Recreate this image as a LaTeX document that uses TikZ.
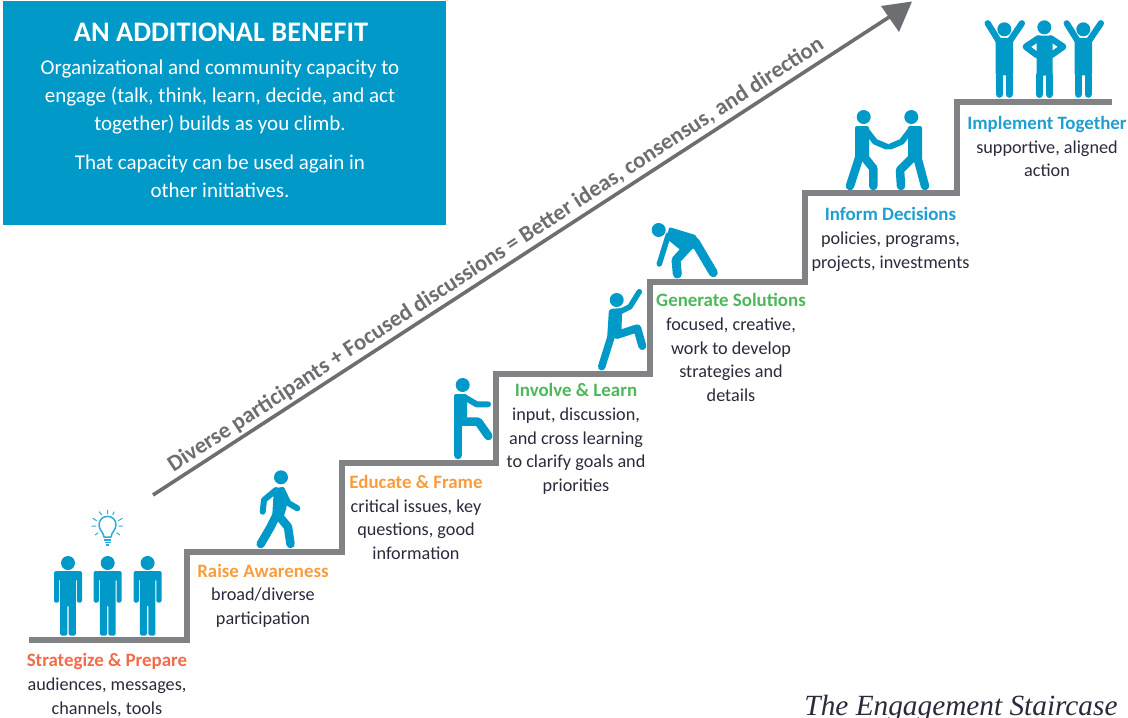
\documentclass[tikz,border=0pt]{standalone}
\usepackage{fontspec}
\setmainfont{Carlito}
\newfontfamily\capfont{Liberation Serif}
\definecolor{pblue}{HTML}{0099C8}
\definecolor{lblue}{HTML}{29ABDC}
\definecolor{stairgray}{HTML}{808285}
\definecolor{arrowgray}{HTML}{6D6E71}
\definecolor{bodyink}{HTML}{2A2A3C}
\definecolor{coral}{HTML}{F46A4A}
\definecolor{amber}{HTML}{F99D3C}
\definecolor{leaf}{HTML}{4DB85A}
\definecolor{sky}{HTML}{1F9FD0}
\newcommand{\stephead}[2]{{\fontsize{18.9}{23.6}\selectfont\bfseries\color{#1}#2}}
\tikzset{
  limb/.style={draw=pblue,line width=#1,line cap=round,line join=round},
  limb/.default=8,
  solidbody/.style={fill=pblue,draw=none,rounded corners=2},
  steptext/.style={font=\fontsize{18.2}{23.6}\selectfont,text=bodyink,align=center,inner sep=0pt},
  boxtext/.style={font=\fontsize{21}{28}\selectfont,text=white,align=center,inner sep=0pt},
  standperson/.pic={
    \fill[pblue] (0,0) circle (7);
    \fill[pblue,rounded corners=1.5] (-14,8) -- (14,8) -- (14,39.5) -- (8.8,39.5) -- (8.8,16) -- (7.8,16) -- (7.8,72.5) -- (0.7,72.5) -- (0.7,42) -- (-0.7,42) -- (-0.7,72.5) -- (-7.8,72.5) -- (-7.8,16) -- (-8.8,16) -- (-8.8,39.5) -- (-14,39.5) -- cycle;
  },
  cheerbody/.pic={
    \fill[pblue] (0,0) circle (7);
    \fill[pblue,rounded corners=1.5] (-8.7,8.5) -- (8.7,8.5) -- (8.7,46) -- (-8.7,46) -- cycle;
    \draw[limb=7] (-4.7,46) -- (-4.7,65);
    \draw[limb=7] (4.7,46) -- (4.7,65);
    \draw[limb=6.3] (-6,11) -- (-16.6,-6);
    \draw[limb=6.3] (6,11) -- (17.6,-6);
  },
}
\begin{document}
\begin{tikzpicture}[x=1pt,y=-1pt]
\useasboundingbox (0,0) rectangle (1128,718);
% info box
\node[fill=pblue,draw=none,minimum width=443,minimum height=224,inner sep=0pt] (box) at (224.5,113) {};
\node[font=\fontsize{28.3}{30}\selectfont\bfseries,text=white,inner sep=0pt] (boxtitle) at (221,32) {AN ADDITIONAL BENEFIT};
\node[boxtext] (boxbody) at (220,97) {Organizational and community capacity to\\engage (talk, think, learn, decide, and act\\together) builds as you climb.};
\node[boxtext] (boxtail) at (220,176) {That capacity can be used again in\\other initiatives.};
% staircase
\draw[stairgray,line width=6,line join=miter] (29,640) -- (187,640) -- (187,552) -- (342,552) -- (342,463) -- (495.5,463) -- (495.5,374) -- (650,374) -- (650,281.5) -- (805,281.5) -- (805,193) -- (957,193) -- (957,102) -- (1112,102);
% diagonal arrow
\coordinate (arrowstart) at (153,495);
\coordinate (arrowend) at (890,16.5);
\draw[arrowgray,line width=3.6] (arrowstart) -- (arrowend);
\fill[arrowgray] (912,1.5) -- (881,6) -- (899,32) -- cycle;
\node[rotate=33.1,font=\fontsize{22.8}{26}\selectfont\bfseries,text=arrowgray,inner sep=0pt] (slogan) at (496,255) {Diverse participants + Focused discussions = Better ideas, consensus, and direction};
% three standing people
\pic at (68,563) {standperson};
\pic at (107.7,563) {standperson};
\pic at (147.6,563) {standperson};
% bulb
\draw[lblue,line width=1.5,line join=round] (104,537) .. controls (103.5,532) and (99,530) .. (99,525) .. controls (99,513.5) and (116,513.5) .. (116,525) .. controls (116,530) and (111.5,532) .. (111,537) -- cycle;
\draw[lblue,line width=1.5] (104,540) -- (111,540) (104.5,542.5) -- (110.5,542.5) (106,545) -- (109,545);
\draw[lblue,line width=1] (107.7,510) -- (107.7,514) (99.3,511.7) -- (101.7,515) (114.3,511.7) -- (112.7,515) (92.7,518.3) -- (96.7,520.7) (122.3,518.3) -- (118.3,520.7) (91.7,526) -- (96,526) (122.7,526) -- (118.7,526) (95,535) -- (98.3,532.7) (120,535) -- (116.7,532.7);
% walker
\fill[pblue] (281,477.3) circle (7);
\fill[solidbody] (274,488) -- (284.5,487) -- (287,506) -- (283,519) -- (272,519) -- cycle;
\draw[limb=8.5] (276,516) -- (270,528) -- (260.7,544);
\draw[limb=8.5] (279,516) -- (288,527) -- (290.5,544);
\draw[limb=6] (276,490) -- (264,500) -- (262.7,511.7);
\draw[limb=6] (282,490) -- (288.3,503) -- (297.3,508.3);
% stepping person
\fill[pblue] (462.7,385) circle (7);
\fill[solidbody] (454,394) -- (467,394) -- (467,424) -- (454,424) -- cycle;
\draw[limb=8.5] (458.2,420) -- (458.2,455);
\draw[limb=6] (465,397.5) -- (476.7,404.3) -- (488,404.3);
\draw[limb=8.5] (461.7,421.7) -- (478.3,421.7) -- (488.3,436);
% climbing person
\fill[pblue] (616.7,300) circle (7);
\fill[solidbody] (609,309) -- (622,308) -- (621.5,335) -- (607,340) -- cycle;
\draw[limb=7.5] (611,337) -- (601.7,366.7);
\draw[limb=8] (616.7,335) -- (637.3,328.3) -- (642.3,346);
\draw[limb=5.5] (620,311.7) -- (630,306.7) -- (639.3,291.7);
% bending person
\fill[pblue] (658.7,230) circle (7);
\fill[solidbody] (669,227) -- (697,235.5) -- (696,247.5) -- (684,253) -- (667,239) -- cycle;
\draw[limb=5.5] (668.3,235) -- (659.3,264);
\draw[limb=9] (695,241.7) -- (713.3,272.7);
\draw[limb=9] (688,247) -- (676,260) -- (677.3,274);
% handshake
\fill[pblue] (863.7,117) circle (7);
\fill[solidbody] (855,126) -- (869,126) -- (869,160) -- (855,160) -- cycle;
\draw[limb=8.5] (859,158) -- (850,186);
\draw[limb=8.5] (865,158) -- (873.3,168.3) -- (873.3,186);
\draw[limb=6] (866,130) -- (875,141.7) -- (886.7,146.7);
\fill[pblue] (911.3,117) circle (7);
\fill[solidbody] (908,126) -- (922,126) -- (922,160) -- (908,160) -- cycle;
\draw[limb=8.5] (913,157) -- (900,170) -- (901,186);
\draw[limb=8.5] (917.5,158) -- (925,186);
\draw[limb=6] (910.5,130) -- (901.7,141.7) -- (890,146.7);
% cheering group
\pic at (1004.3,29.3) {cheerbody};
\pic at (1083.3,29.3) {cheerbody};
\fill[pblue] (1044.3,27.3) circle (7);
\fill[pblue,rounded corners=1.5] (1036.5,35.7) -- (1052.5,35.7) -- (1052.5,75.5) -- (1036.5,75.5) -- cycle;
\draw[limb=7] (1039.5,75) -- (1039.5,94.5);
\draw[limb=7] (1049.3,75) -- (1049.3,94.5);
\draw[limb=6.3] (1038.3,38.3) -- (1025.7,46.7) -- (1036.7,55);
\draw[limb=6.3] (1050.7,38.3) -- (1063.3,46.7) -- (1051.7,55);
% step labels
\node[steptext] (strategize) at (107,685) {\stephead{coral}{Strategize \& Prepare}\\audiences, messages,\\channels, tools};
\node[steptext] (raise) at (263,595.5) {\stephead{amber}{Raise Awareness}\\broad/diverse\\participation};
\node[steptext] (educate) at (416,517.5) {\stephead{amber}{Educate \& Frame}\\critical issues, key\\questions, good\\information};
\node[steptext] (involve) at (576,439) {\stephead{leaf}{Involve \& Learn}\\input, discussion,\\and cross learning\\to clarify goals and\\priorities};
\node[steptext] (generate) at (731,347.5) {\stephead{leaf}{Generate Solutions}\\focused, creative,\\work to develop\\strategies and\\details};
\node[steptext] (inform) at (890.5,239.5) {\stephead{sky}{Inform Decisions}\\policies, programs,\\projects, investments};
\node[steptext] (implement) at (1047,146.5) {\stephead{sky}{Implement Together}\\supportive, aligned\\action};
% caption
\node[anchor=base,font=\capfont\itshape\fontsize{29.3}{30}\selectfont,text=bodyink,inner sep=0pt] (caption) at (961,715) {The Engagement Staircase};
\end{tikzpicture}
\end{document}
